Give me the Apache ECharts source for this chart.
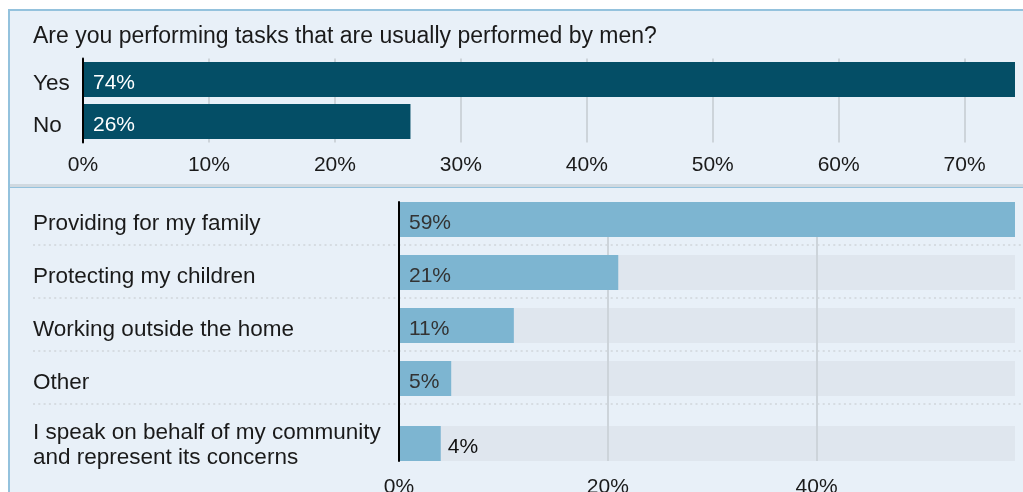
<!DOCTYPE html>
<html>
<head>
<meta charset="utf-8">
<title>Tasks usually performed by men</title>
<script src="https://cdn.jsdelivr.net/npm/echarts@6/dist/echarts.min.js"></script>
<style>
  html, body { margin: 0; padding: 0; background: #ffffff; }
  #chart { width: 1023px; height: 492px; }
</style>
</head>
<body>
<div id="chart"></div>
<script>
// Question 1: share answering yes / no
const questionTitle = 'Are you performing tasks that are usually performed by men?';
const answerCategories = ['Yes', 'No'];
const answerValues = [74, 26];
const answerTicks = [0, 10, 20, 30, 40, 50, 60, 70];

// Question 2: which tasks
const taskCategories = [
  'Providing for my family',
  'Protecting my children',
  'Working outside the home',
  'Other'
];
const taskValues = [59, 21, 11, 5];
const lastTaskCategory = 'I speak on behalf of my community\nand represent its concerns';
const lastTaskValue = 4;
const taskTicks = [0, 20, 40];

const FONT = 'Liberation Sans';
const TEXT = '#1a1a1a';
const PANEL = '#e8f0f8';
const PANEL_EDGE = '#94c2dd';
const GRID_LINE = '#cdd4da';
const DARK_BAR = '#044e66';
const LIGHT_BAR = '#7db5d1';
const TRACK = '#dfe6ee';
const WORD_SIZE = 22.5;
const NUM_SIZE = 21;

const answerMax = Math.max(...answerValues);
const taskMax = Math.max(...taskValues, lastTaskValue);
const pct = v => v + '%';

// layout of the task panel
const rowTop = 193, rowPitch = 53, barH = 35;
const barsTop = rowTop + (rowPitch - barH) / 2;      // first bar's top edge
const lastRowTop = 426;                                // two-line row sits lower
const barsBottom = lastRowTop + barH;

function valueAxis(gridIndex, max, interval, opts) {
  return {
    type: 'value', gridIndex, min: 0, max, interval, z: 2,
    axisLine: { show: false }, axisTick: { show: false },
    axisLabel: {
      show: !!opts.labels, formatter: pct, margin: opts.margin || 0,
      fontFamily: FONT, fontSize: NUM_SIZE, color: TEXT,
      showMaxLabel: false
    },
    splitLine: {
      show: !!opts.grid, showMinLine: false, showMaxLine: false,
      lineStyle: { color: GRID_LINE, width: 2 }
    }
  };
}

// category names sit a little below the bar centre line
function categoryAxis(gridIndex, data, opts) {
  const multiLine = !!opts.multiLine;
  return {
    type: 'category', gridIndex, data, inverse: true, z: 4,
    axisLine: { show: !!opts.line, lineStyle: { color: '#000000', width: 2 } },
    axisTick: { show: false },
    splitLine: { show: false },
    axisLabel: {
      show: !!opts.labels, margin: opts.margin || 0, align: 'left',
      formatter: v => v.split('\n').map(s => '{t|' + s + '}').join('\n'),
      rich: {
        t: Object.assign({
          fontFamily: FONT, fontSize: WORD_SIZE, color: TEXT
        }, multiLine ? { lineHeight: 25, padding: [4, 0, 0, 0] } : { padding: [8, 0, 0, 0] })
      }
    }
  };
}

function valueLabel(position, color) {
  return {
    show: true, position, distance: position === 'right' ? 7 : 10,
    offset: [0, 4],
    formatter: p => pct(p.value),
    fontFamily: FONT, fontSize: NUM_SIZE, color
  };
}

// Dotted separators between task rows
const separators = taskCategories.map((_, i) => ({
  type: 'line', z: -5, silent: true,
  shape: { x1: 33, y1: rowTop + rowPitch * (i + 1) - 1, x2: 1023, y2: rowTop + rowPitch * (i + 1) - 1 },
  style: { stroke: '#d6dce2', lineWidth: 2, lineDash: [2, 3.3] }
}));

const option = {
  animation: false,
  backgroundColor: '#ffffff',
  title: {
    text: questionTitle, left: 33, top: 25, padding: 0,
    textStyle: { fontFamily: FONT, fontSize: 23, fontWeight: 'normal', color: TEXT }
  },
  graphic: [
    { type: 'rect', z: -10, silent: true,
      shape: { x: 9, y: 10, width: 1040, height: 175 },
      style: { fill: PANEL, stroke: PANEL_EDGE, lineWidth: 2 } },
    { type: 'rect', z: -10, silent: true,
      shape: { x: 9, y: 187, width: 1040, height: 340 },
      style: { fill: PANEL, stroke: PANEL_EDGE, lineWidth: 2 } },
    { type: 'rect', z: -9, silent: true,
      shape: { x: 10, y: 184, width: 1040, height: 3 },
      style: { fill: '#d0d9e0' } },
    ...separators
  ],
  grid: [
    // 0: yes / no
    { left: 83, right: 8, top: 58.5, height: 84, outerBoundsMode: 'none' },
    // 1: gridlines, baseline and ticks for the task bars
    { left: 399, right: 8, top: barsTop, height: barsBottom - barsTop, outerBoundsMode: 'none' },
    // 2: first four task rows
    { left: 399, right: 8, top: rowTop, height: rowPitch * taskCategories.length, outerBoundsMode: 'none' },
    // 3: two-line task row
    { left: 399, right: 8, top: lastRowTop, height: barH, outerBoundsMode: 'none' }
  ],
  xAxis: [
    valueAxis(0, answerMax, answerTicks[1] - answerTicks[0], { labels: true, grid: true, margin: 12 }),
    valueAxis(1, taskMax, taskTicks[1] - taskTicks[0], { labels: true, grid: true, margin: 16 }),
    valueAxis(2, taskMax, taskTicks[1] - taskTicks[0], {}),
    valueAxis(3, taskMax, taskTicks[1] - taskTicks[0], {})
  ],
  yAxis: [
    categoryAxis(0, answerCategories, { line: true, labels: true, margin: 50 }),
    categoryAxis(1, [''], { line: true }),
    categoryAxis(2, taskCategories, { labels: true, margin: 366 }),
    categoryAxis(3, [lastTaskCategory], { labels: true, margin: 366, multiLine: true })
  ],
  series: [
    {
      type: 'bar', xAxisIndex: 0, yAxisIndex: 0, z: 3,
      data: answerValues, barWidth: barH,
      itemStyle: { color: DARK_BAR },
      label: valueLabel('insideLeft', '#ffffff')
    },
    {
      type: 'bar', xAxisIndex: 2, yAxisIndex: 2, z: 1, silent: true,
      data: taskValues.map(() => taskMax), barWidth: barH,
      itemStyle: { color: TRACK }
    },
    {
      type: 'bar', xAxisIndex: 2, yAxisIndex: 2, z: 3,
      data: taskValues, barWidth: barH, barGap: '-100%',
      itemStyle: { color: LIGHT_BAR },
      label: valueLabel('insideLeft', '#333333')
    },
    {
      type: 'bar', xAxisIndex: 3, yAxisIndex: 3, z: 1, silent: true,
      data: [taskMax], barWidth: barH,
      itemStyle: { color: TRACK }
    },
    {
      type: 'bar', xAxisIndex: 3, yAxisIndex: 3, z: 3,
      data: [lastTaskValue], barWidth: barH, barGap: '-100%',
      itemStyle: { color: LIGHT_BAR },
      label: valueLabel('right', '#111111')
    }
  ]
};

const chart = echarts.init(document.getElementById('chart'), null, { renderer: 'canvas' });
chart.setOption(option);
</script>
</body>
</html>
